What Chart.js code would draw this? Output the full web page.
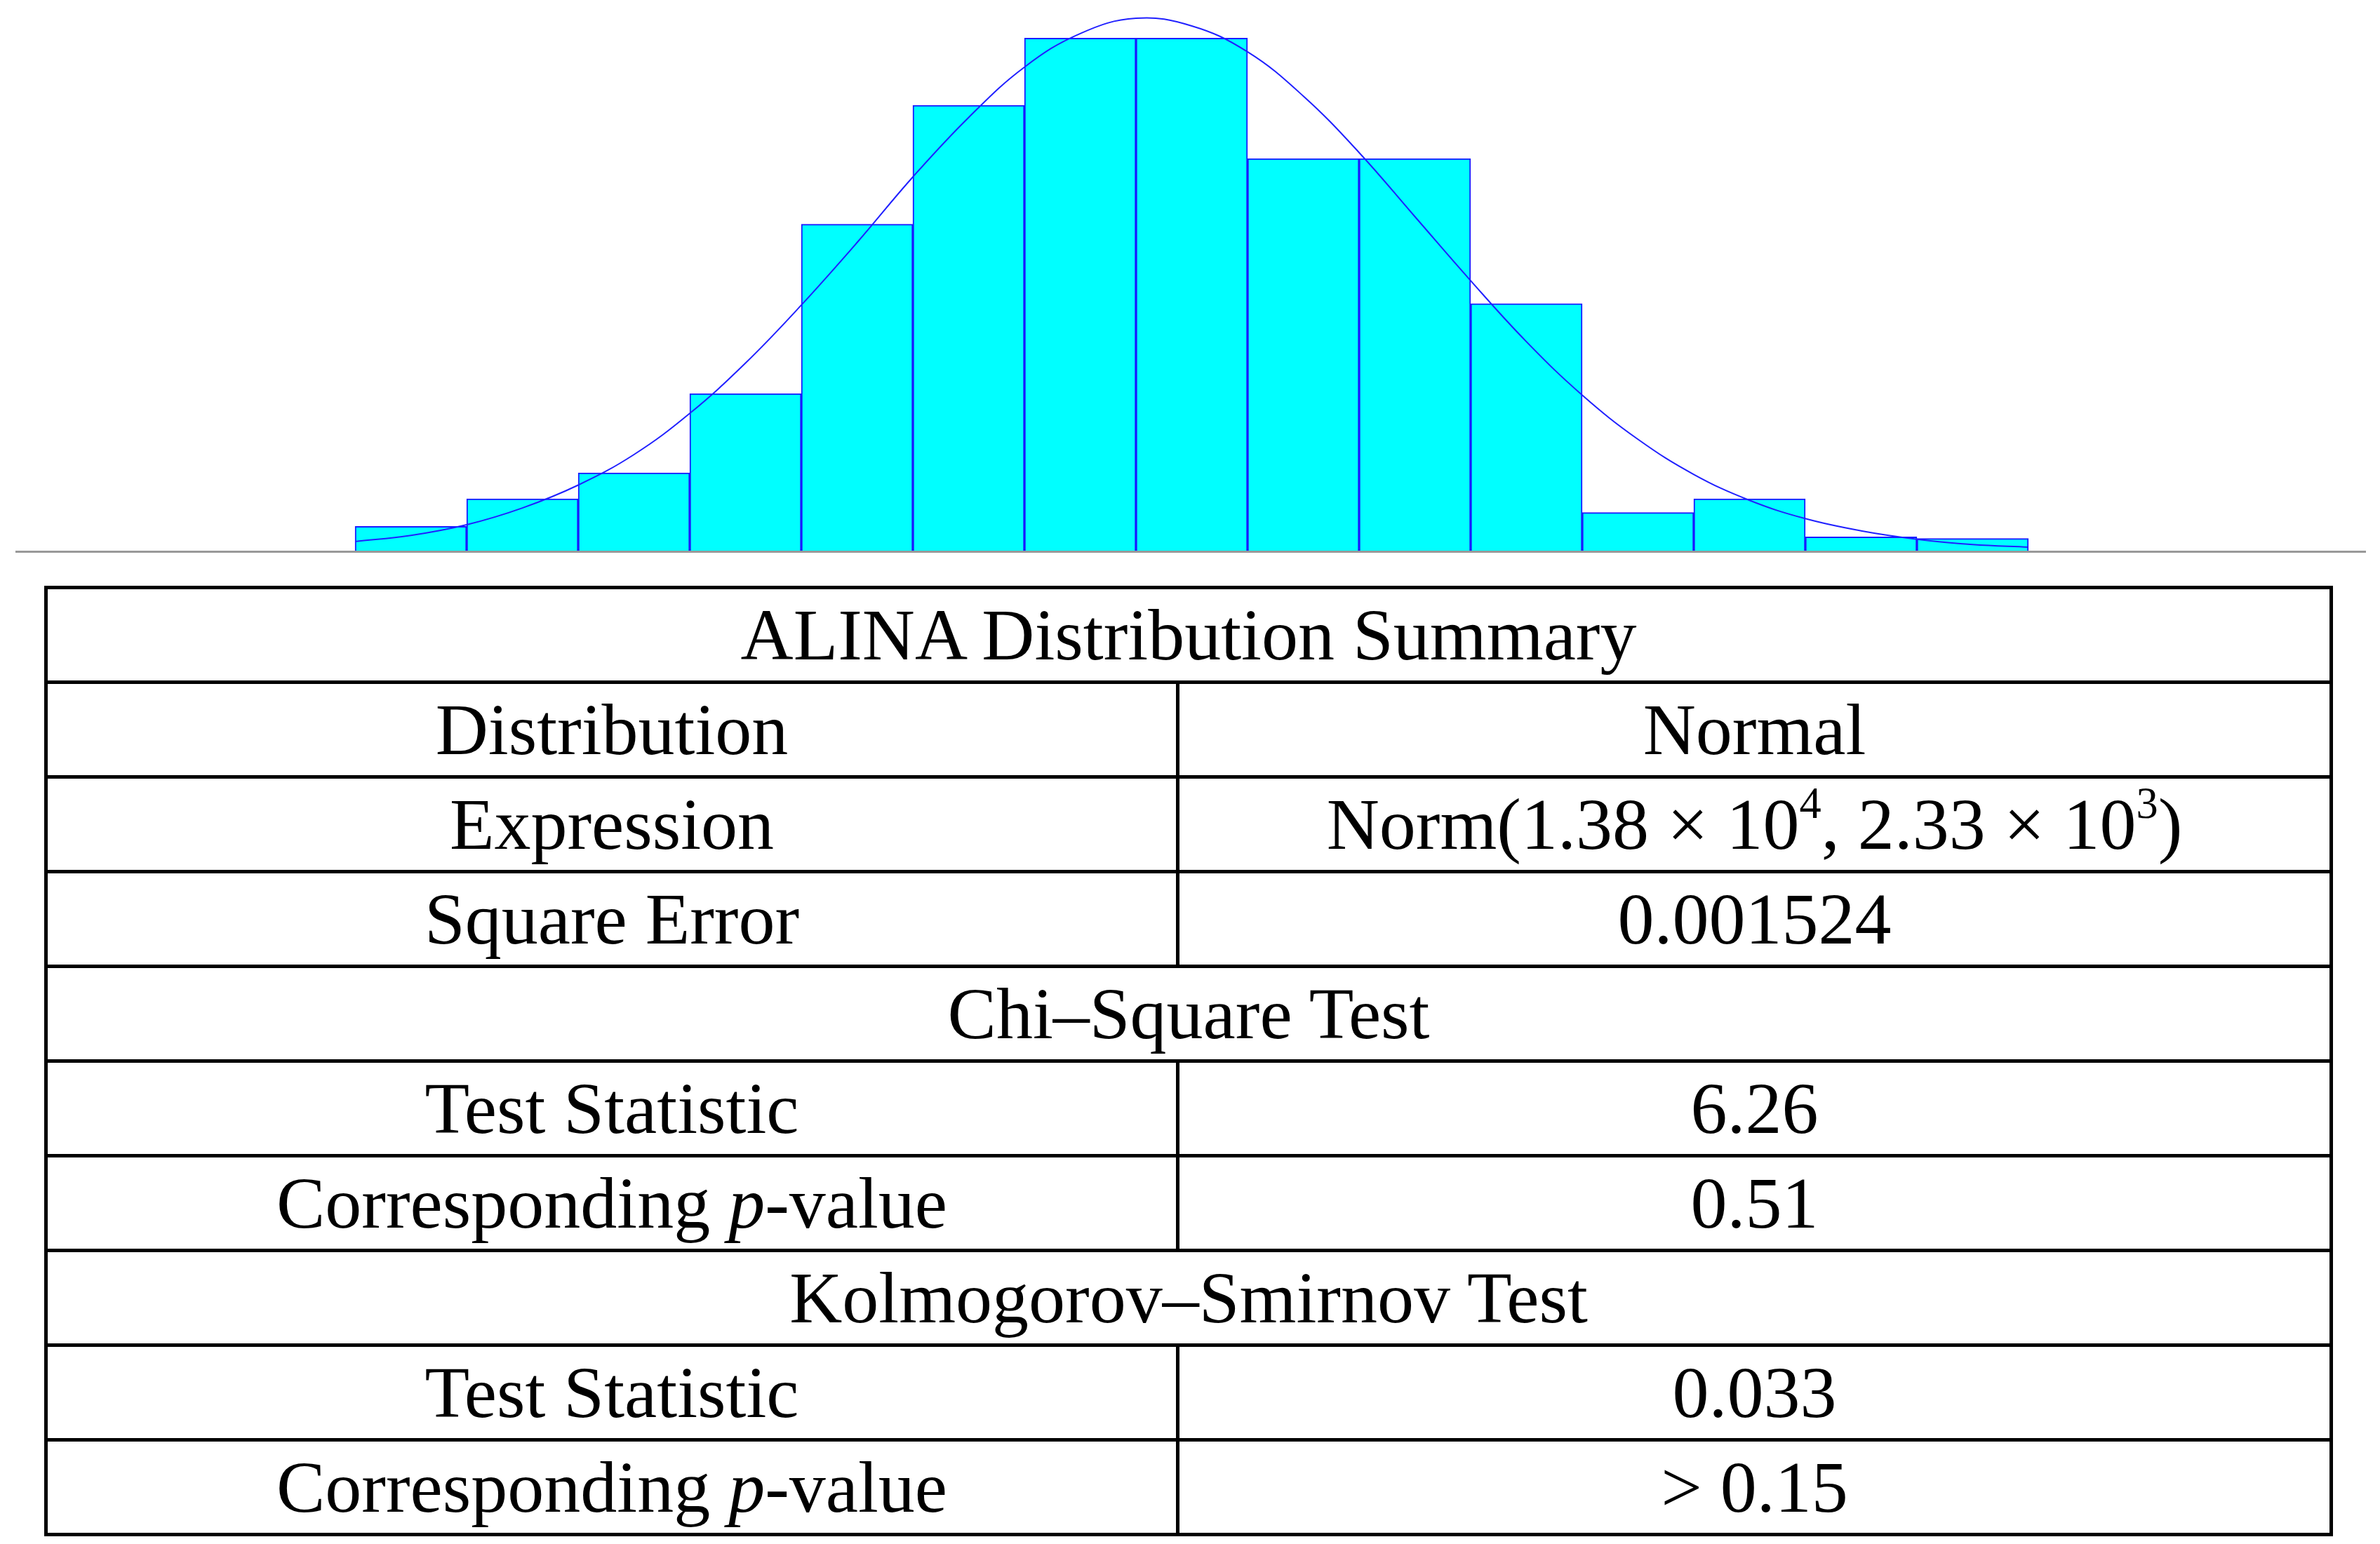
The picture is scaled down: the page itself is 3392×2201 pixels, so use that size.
<!DOCTYPE html>
<html>
<head>
<meta charset="utf-8">
<script src="https://cdn.jsdelivr.net/npm/chart.js@4"></script>
<style>
  body { margin: 0; background: #fff; width: 3392px; height: 2201px; position: relative; overflow: hidden; }
  #wrap { position: absolute; left: 0; top: 0; width: 3392px; height: 785px; }
  #baseline { position: absolute; left: 22px; top: 785px; width: 3350px; border-top: 3px solid #999; }
  table { position: absolute; left: 63px; top: 835px; width: 3262px; border-collapse: collapse;
          font-family: "Liberation Serif", "DejaVu Serif", serif; font-size: 104px; color: #000; }
  td { border: 5px solid #000; height: 130px; text-align: center; padding: 0; line-height: 1; }
  td.l { width: 1608px; }
  sup { font-size: 60%; vertical-align: 0.7em; line-height: 0; }
</style>
</head>
<body>
<div id="wrap"><canvas id="hist" width="3392" height="785"></canvas></div>
<div id="baseline"></div>
<table>
  <tr><td colspan="2">ALINA Distribution Summary</td></tr>
  <tr><td class="l">Distribution</td><td>Normal</td></tr>
  <tr><td class="l">Expression</td><td>Norm(1.38 × 10<sup>4</sup>, 2.33 × 10<sup>3</sup>)</td></tr>
  <tr><td class="l">Square Error</td><td>0.001524</td></tr>
  <tr><td colspan="2">Chi–Square Test</td></tr>
  <tr><td class="l">Test Statistic</td><td>6.26</td></tr>
  <tr><td class="l">Corresponding <i>p</i>-value</td><td>0.51</td></tr>
  <tr><td colspan="2">Kolmogorov–Smirnov Test</td></tr>
  <tr><td class="l">Test Statistic</td><td>0.033</td></tr>
  <tr><td class="l">Corresponding <i>p</i>-value</td><td>&gt; 0.15</td></tr>
</table>
<script>
// histogram bins (index of bin) and bar heights
const binIndex = [0, 1, 2, 3, 4, 5, 6, 7, 8, 9, 10, 11, 12, 13, 14];
const barHeights = [16, 34, 51, 103, 214, 292, 336, 336, 257, 257, 162, 25, 34, 9, 8];

// fitted curve, sampled every half bin
const curveX = [0, 0.5, 1, 1.5, 2, 2.5, 3, 3.5, 4, 4.5, 5, 5.5, 6, 6.5, 7, 7.5, 8, 8.5, 9, 9.5, 10, 10.5, 11, 11.5, 12, 12.5, 13, 13.5, 14, 14.5, 15];
const curveY = [6, 10, 17, 28, 43, 63, 90, 123, 161, 202, 245, 284, 317, 339, 349, 344, 327, 298, 261, 219, 177, 137, 102, 73, 50, 33, 21, 13, 7.5, 4, 2.3];

const ctx = document.getElementById('hist');
new Chart(ctx, {
  data: {
    datasets: [
      {
        type: 'line',
        data: curveX.map((x, i) => ({ x: x, y: curveY[i] })),
        borderColor: '#2020ff',
        borderWidth: 2,
        pointRadius: 0,
        tension: 0.4,
        fill: false,
        order: 0
      },
      {
        type: 'bar',
        data: binIndex.map((b, i) => ({ x: b + 0.5, y: barHeights[i] })),
        backgroundColor: '#00ffff',
        borderColor: '#1a1aff',
        borderWidth: 2,
        barPercentage: 1,
        categoryPercentage: 1,
        order: 1
      }
    ]
  },
  options: {
    responsive: false,
    animation: false,
    devicePixelRatio: 1,
    layout: { padding: { left: 357, right: 352, top: 0, bottom: 0 } },
    plugins: { legend: { display: false }, tooltip: { enabled: false } },
    scales: {
      x: { type: 'linear', min: 0, max: 15, display: false },
      y: { min: 0, max: 361, display: false }
    }
  }
});
</script>
</body>
</html>
